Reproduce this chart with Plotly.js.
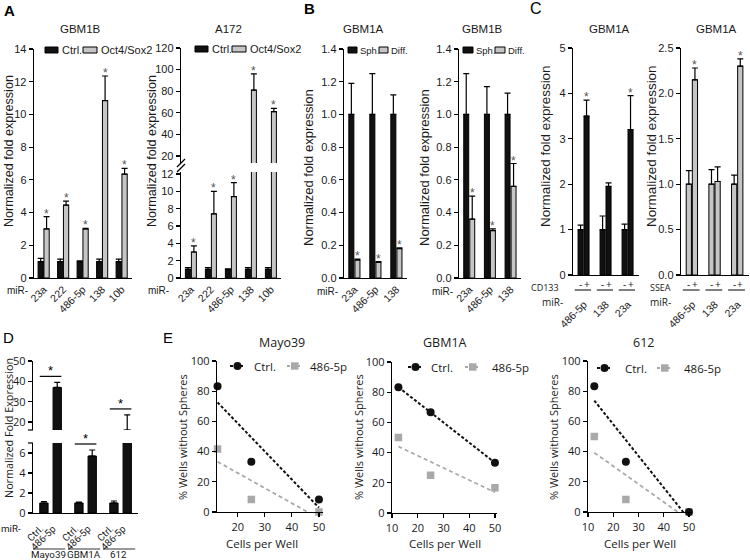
<!DOCTYPE html>
<html><head><meta charset="utf-8">
<script src="https://cdn.plot.ly/plotly-3.0.1.min.js"></script>
<style>html,body{margin:0;padding:0;background:#fff}#chart{width:750px;height:560px}</style>
</head><body><div id="chart"></div>
<script>
// ================= DATA =================
// Panel A
const aCats = ['23a','222','486-5p','138','10b'];
const gbm1bCtrl    = [1,1,1,1,1];
const gbm1bCtrlErr = [0.2,0.15,0.05,0.15,0.15];
const gbm1bOS      = [3.0,4.45,3.0,10.85,6.35];
const gbm1bOSErr   = [0.75,0.25,0.03,1.5,0.35];
const gbm1bSig     = [1,1,1,1,1];
const a172Ctrl     = [1,1,1,1,1];
const a172CtrlErr  = [0.2,0.2,0.05,0.2,0.2];
const a172OS       = [3.0,7.4,9.4,81,61];
const a172OSErr    = [0.7,2.6,1.6,15,3];
const a172Sig      = [1,1,1,1,1];
// Panel B
const bCats = ['23a','486-5p','138'];
const gbm1aSph     = [1,1,1];
const gbm1aSphErr  = [0.19,0.25,0.12];
const gbm1aDiff    = [0.11,0.095,0.18];
const gbm1aDiffErr = [0.005,0.005,0.005];
const gbm1aSig     = [1,1,1];
const gbm1bSph     = [1,1,1];
const gbm1bSphErr  = [0.25,0.17,0.13];
const gbm1bDiff    = [0.36,0.29,0.56];
const gbm1bDiffErr = [0.14,0.01,0.14];
const gbm1bBSig    = [1,1,1];
// Panel C
const cCats = ['486-5p','138','23a'];
const cd133Neg    = [1,1,1];
const cd133NegErr = [0.1,0.3,0.12];
const cd133Pos    = [3.5,1.95,3.2];
const cd133PosErr = [0.35,0.08,0.75];
const cd133Sig    = [1,0,1];
const sseaNeg     = [1,1,1];
const sseaNegErr  = [0.15,0.16,0.1];
const sseaPos     = [2.15,1.03,2.3];
const sseaPosErr  = [0.13,0.16,0.08];
const sseaSig     = [1,0,1];
// Panel D
const dLines   = ['Mayo39','GBM1A','612'];
const dCtrl    = [1,1,1];
const dCtrlErr = [0.15,0.1,0.2];
const d486     = [37,5.7,16];
const d486Err  = [2.5,0.6,7.5];
// Panel E
const cellsPerWell = [12.5,25,50];
const mayoCtrl = [83.3,33.3,8.3];
const mayo486  = [41.7,8.3,0];
const gbmCtrl  = [83.3,66.7,33.3];
const gbm486   = [50,25,16.7];
const c612Ctrl = [83.3,33.3,0];
const c612_486 = [50,8.3,0];
const fitX = [12.5,50];
const mayoCtrlFit = [72.6,2.9];
const mayo486Fit  = [33.3,-4.2];
const gbmCtrlFit  = [83.3,33.3];
const gbm486Fit   = [44.0,13.7];
const c612CtrlFit = [73.8,-4.8];
const c612_486Fit = [39.3,-5.3];

// ================= HELPERS =================
const W=750,H=560;
const px = p => p/W;
const py = p => 1 - p/H;
const ARIAL = 'Liberation Sans, Arial, sans-serif';
const MYR = 'Open Sans, Noto Sans, sans-serif';
const NARROW = 'Roboto, Open Sans, sans-serif';
const BLACK = '#111111', GREY = '#c6c6c6', EGREY = '#a9a9a9';
const TXT = '#1a1a1a';

function yAxis(anchor, top, bottom, range, o={}) {
  return Object.assign({anchor, domain:[py(bottom), py(top)], range, showline:true, linecolor:'#000', linewidth:1.3,
    ticks:'outside', ticklen:4, tickwidth:1.2, tickcolor:'#000', showgrid:false, zeroline:false, automargin:false,
    fixedrange:true, tickfont:{family:ARIAL,size:11,color:TXT}}, o);
}
function catX(anchor, l, r, n, o={}) {
  return Object.assign({anchor, domain:[px(l), px(r)], type:'category', range:[-0.5, n-0.5], showline:true,
    linecolor:'#000', linewidth:1.3, ticks:'', tickangle:-45, showgrid:false, zeroline:false, automargin:false,
    fixedrange:true, tickfont:{family:ARIAL,size:10.5,color:TXT}}, o);
}
function linX(anchor, l, r, range, o={}) {
  return Object.assign({anchor, domain:[px(l), px(r)], range, showline:true, linecolor:'#000', linewidth:1.3,
    ticks:'outside', ticklen:4, tickwidth:1.2, tickcolor:'#000', showgrid:false, zeroline:false, automargin:false,
    fixedrange:true, tickvals:[10,20,30,40,50], tickfont:{family:MYR,size:11,color:TXT}}, o);
}
function barTrace(xa, ya, cats, vals, errs, color, off, w) {
  return {type:'bar', x:cats, y:vals, xaxis:xa, yaxis:ya, offset:off, width:w,
    marker:{color, line:{color:'#000', width:1}},
    error_y:{type:'data', symmetric:false, array:errs, arrayminus:vals.map(()=>0), color:'#000', thickness:1.2, width:3},
    showlegend:false, hoverinfo:'skip'};
}
function txt(text, x, y, o={}) {
  return Object.assign({text, x:px(x), y:py(y), xref:'paper', yref:'paper', showarrow:false,
    font:{family:ARIAL,size:11,color:TXT}, xanchor:'center', yanchor:'middle'}, o);
}
function starAnns(xa, ya, vals, errs, sig, off, w, yaAlt, altThresh) {
  const out = [];
  vals.forEach((v,i) => {
    if (!sig[i]) return;
    const top = v + errs[i];
    let yr = ya, xr = xa;
    if (yaAlt && top > altThresh) { yr = yaAlt[1]; xr = yaAlt[0]; }
    out.push({text:'*', x:i+off+w/2, y:top, xref:xr, yref:yr, showarrow:false, xanchor:'center', yanchor:'bottom',
      yshift:-6, font:{family:ARIAL,size:12,color:'#555'}});
  });
  return out;
}
function rect(x0,y0,x1,y1,fill) {
  return {type:'rect', xref:'paper', yref:'paper', x0:px(x0), x1:px(x1), y0:py(y1), y1:py(y0),
    fillcolor:fill, line:{color:'#000', width:1}};
}
function pline(x0,y0,x1,y1,color='#000',width=1.2,dash='solid') {
  return {type:'line', xref:'paper', yref:'paper', x0:px(x0), x1:px(x1), y0:py(y0), y1:py(y1), line:{color,width,dash}};
}

// ================= TRACES =================
const traces = [];
// A
const aOff=[-0.29,0.01], aW=0.27;
traces.push(barTrace('x','y',aCats,gbm1bCtrl,gbm1bCtrlErr,BLACK,aOff[0],aW));
traces.push(barTrace('x','y',aCats,gbm1bOS,gbm1bOSErr,GREY,aOff[1],aW));
const a2Off=[-0.28,0.02], a2W=0.25;
['2','3'].forEach(k=>{
  traces.push(barTrace('x'+k,'y'+k,aCats,a172Ctrl,a172CtrlErr,BLACK,a2Off[0],a2W));
  traces.push(barTrace('x'+k,'y'+k,aCats,a172OS,a172OSErr,GREY,a2Off[1],a2W));
});
// B
const bOff=[-0.27,0.02], bW=0.24;
traces.push(barTrace('x4','y4',bCats,gbm1aSph,gbm1aSphErr,BLACK,bOff[0],bW));
traces.push(barTrace('x4','y4',bCats,gbm1aDiff,gbm1aDiffErr,GREY,bOff[1],bW));
traces.push(barTrace('x5','y5',bCats,gbm1bSph,gbm1bSphErr,BLACK,bOff[0],bW));
traces.push(barTrace('x5','y5',bCats,gbm1bDiff,gbm1bDiffErr,GREY,bOff[1],bW));
// C
const cOff=[-0.27,0.0], cW=0.23;
traces.push(barTrace('x6','y6',cCats,cd133Neg,cd133NegErr,BLACK,cOff[0],cW));
traces.push(barTrace('x6','y6',cCats,cd133Pos,cd133PosErr,BLACK,cOff[1],cW));
traces.push(barTrace('x7','y7',cCats,sseaNeg,sseaNegErr,GREY,cOff[0],cW));
traces.push(barTrace('x7','y7',cCats,sseaPos,sseaPosErr,GREY,cOff[1],cW));
// D
const dOff=[-0.307,0.073], dW=0.238;
['8','9'].forEach(k=>{
  traces.push(barTrace('x'+k,'y'+k,dLines,dCtrl,dCtrlErr,BLACK,dOff[0],dW));
  traces.push(barTrace('x'+k,'y'+k,dLines,d486,d486Err,BLACK,dOff[1],dW));
});
// E
function ePanel(k, ctrl, m486, ctrlFit, fit486) {
  traces.push({type:'scatter', mode:'lines', x:fitX, y:fit486, xaxis:'x'+k, yaxis:'y'+k,
    line:{color:EGREY, width:1.8, dash:'4px,3px'}, showlegend:false, hoverinfo:'skip'});
  traces.push({type:'scatter', mode:'lines', x:fitX, y:ctrlFit, xaxis:'x'+k, yaxis:'y'+k,
    line:{color:'#111', width:2, dash:'3px,2px'}, showlegend:false, hoverinfo:'skip'});
  traces.push({type:'scatter', mode:'markers', x:cellsPerWell, y:m486, xaxis:'x'+k, yaxis:'y'+k, cliponaxis:false,
    marker:{symbol:'square', size:7.5, color:EGREY}, showlegend:false, hoverinfo:'skip'});
  traces.push({type:'scatter', mode:'markers', x:cellsPerWell, y:ctrl, xaxis:'x'+k, yaxis:'y'+k, cliponaxis:false,
    marker:{symbol:'circle', size:8, color:'#111'}, showlegend:false, hoverinfo:'skip'});
}
ePanel('10', mayoCtrl, mayo486, mayoCtrlFit, mayo486Fit);
ePanel('11', gbmCtrl, gbm486, gbmCtrlFit, gbm486Fit);
ePanel('12', c612Ctrl, c612_486, c612CtrlFit, c612_486Fit);

// ================= LAYOUT =================
const layout = {
  width:W, height:H, margin:{l:0,r:0,t:0,b:0}, paper_bgcolor:'#fff', plot_bgcolor:'rgba(0,0,0,0)',
  showlegend:false, barmode:'overlay', font:{family:ARIAL, color:TXT},
  // A
  xaxis: catX('y',34,131.5,5),
  yaxis: yAxis('x',49,278,[0,14],{dtick:2}),
  xaxis2: catX('y2',181,281,5),
  yaxis2: yAxis('x2',172,278,[0,12.23],{dtick:2}),
  xaxis3: catX('y3',181,281,5,{visible:false}),
  yaxis3: yAxis('x3',48,163,[13.5,120],{tickvals:[20,40,60,80,100,120]}),
  // B
  xaxis4: catX('y4',344,407,3),
  yaxis4: yAxis('x4',49,278,[0,1.4],{dtick:0.2,tickformat:'.1f'}),
  xaxis5: catX('y5',459,521,3),
  yaxis5: yAxis('x5',49,278,[0,1.4],{dtick:0.2,tickformat:'.1f'}),
  // C
  xaxis6: catX('y6',573,639,3,{ticklabelstandoff:18}),
  yaxis6: yAxis('x6',48,275,[0,5],{dtick:1}),
  xaxis7: catX('y7',681,749,3,{ticklabelstandoff:18}),
  yaxis7: yAxis('x7',48,275,[0,2.5],{dtick:0.5,tickformat:'.1f'}),
  // D
  xaxis8: catX('y8',33,138,3,{showticklabels:false}),
  yaxis8: yAxis('x8',443,513,[0,7],{dtick:2,tickfont:{family:MYR,size:11,color:TXT}}),
  xaxis9: catX('y9',33,138,3,{visible:false}),
  yaxis9: yAxis('x9',361,430,[16.1,50],{tickvals:[20,30,40,50],tickfont:{family:MYR,size:11,color:TXT}}),
  // E
  xaxis10: linX('y10',217,323,[12.3,51.5]),
  yaxis10: yAxis('x10',361,512,[0,100],{dtick:20,tickfont:{family:MYR,size:11,color:TXT}}),
  xaxis11: linX('y11',392,497,[10,50.8]),
  yaxis11: yAxis('x11',362,513,[0,100],{dtick:20,tickfont:{family:MYR,size:11,color:TXT}}),
  xaxis12: linX('y12',588,692,[10,51.2]),
  yaxis12: yAxis('x12',361,512,[0,100],{dtick:20,tickfont:{family:MYR,size:11,color:TXT}}),
};

const ann = [];
const shapes = [];
// panel letters
ann.push(txt('<b>A</b>',9,10,{font:{family:ARIAL,size:15,color:'#000'}}));
ann.push(txt('<b>B</b>',309,9,{font:{family:ARIAL,size:15,color:'#000'}}));
ann.push(txt('C',536,9,{font:{family:ARIAL,size:16,color:'#000'}}));
ann.push(txt('D',8,337,{font:{family:ARIAL,size:15,color:'#000'}}));
ann.push(txt('E',168,337,{font:{family:ARIAL,size:15,color:'#000'}}));
// titles
const tf = {family:ARIAL,size:11.5,color:TXT};
[['GBM1B',80],['A172',228],['GBM1A',363],['GBM1B',482],['GBM1A',609],['GBM1A',716]].forEach(([t,x])=>ann.push(txt(t,x,29,{font:tf})));
const ef = {family:MYR,size:12.5,color:TXT};
[['Mayo39',282],['GBM1A',445],['612',643]].forEach(([t,x])=>ann.push(txt(t,x,342,{font:ef})));
// y titles
[[9,151,12.6],[152,151,12.6],[308,168,13],[424,168,13],[546,146,13.4],[652,146,13.4]].forEach(([x,y,s])=>
  ann.push(txt('Normalized fold expression',x,y,{textangle:-90,font:{family:ARIAL,size:s,color:TXT}})));
ann.push(txt('Normalized Fold Expression',8,428,{textangle:-90,font:{family:MYR,size:10.8,color:TXT}}));
[[182,437],[358,437],[553,437]].forEach(([x,y])=>ann.push(txt('% Wells without Spheres',x,y,{textangle:-90,font:{family:MYR,size:11,color:TXT}})));
[[262,543],[445,543],[640,543]].forEach(([x,y])=>ann.push(txt('Cells per Well',x,y,{font:{family:MYR,size:11.5,color:TXT}})));
// miR- labels
const mf = {family:ARIAL,size:10,color:TXT};
[[30,290],[171,290],[340,291],[455,291]].forEach(([x,y])=>ann.push(txt('miR-',x,y,{xanchor:'right',font:mf})));
const cf = {family:MYR,size:10,color:TXT};
const cf2 = {family:MYR,size:9,color:TXT};
[[565,302],[673,302]].forEach(([x,y])=>ann.push(txt('miR-',x,y,{xanchor:'right',font:cf})));
ann.push(txt('CD133',561,287.5,{xanchor:'right',font:cf2}));
ann.push(txt('SSEA',673,287.5,{xanchor:'right',font:cf2}));
const df = {family:NARROW,size:9.8,color:TXT};
ann.push(txt('miR-',23,528,{xanchor:'right',font:df}));
// C: - / + labels and underlines
[['x6'],['x7']].forEach(([xr])=>{
  cCats.forEach((c,i)=>{
    ann.push({text:'-', x:i+cOff[0]+cW/2, y:py(284), xref:xr, yref:'paper', showarrow:false, font:cf, xanchor:'center', yanchor:'middle'});
    ann.push({text:'+', x:i+cOff[1]+cW/2, y:py(284), xref:xr, yref:'paper', showarrow:false, font:cf, xanchor:'center', yanchor:'middle'});
    shapes.push({type:'line', xref:xr, yref:'paper', x0:i-0.42, x1:i+0.32, y0:py(290), y1:py(290), line:{color:'#000',width:1}});
  });
});
// D: bar labels, underlines, group names
dLines.forEach((g,i)=>{
  ann.push({text:'Ctrl.', x:i+dOff[0]+dW/2, y:py(520), xref:'x8', yref:'paper', showarrow:false, textangle:-45,
    xanchor:'right', yanchor:'top', xshift:4, font:df});
  ann.push({text:'486-5p', x:i+dOff[1]+dW/2, y:py(520), xref:'x8', yref:'paper', showarrow:false, textangle:-45,
    xanchor:'right', yanchor:'top', xshift:4, font:df});
  shapes.push({type:'line', xref:'x8', yref:'paper', x0:i-0.5, x1:i+0.42, y0:py(549), y1:py(549), line:{color:'#777',width:1.5}});
  ann.push({text:g, x:i-0.05, y:py(554), xref:'x8', yref:'paper', showarrow:false, xanchor:'center', yanchor:'middle', font:df});
  // significance bracket
  const top = d486[i] + d486Err[i];
  const k = top > 7 ? '9' : '8';
  shapes.push({type:'line', xref:'x'+k, yref:'y'+k, ysizemode:'pixel', yanchor:top, x0:i+dOff[0], x1:i+dOff[1]+dW, y0:6, y1:6, line:{color:'#000',width:1.2}});
  ann.push({text:'*', x:i, y:top, xref:'x'+k, yref:'y'+k, showarrow:false, xanchor:'center', yanchor:'bottom', yshift:2, font:{family:ARIAL,size:13,color:'#000'}});
});
// stars A-C
ann.push(...starAnns('x','y',gbm1bOS,gbm1bOSErr,gbm1bSig,aOff[1],aW));
ann.push(...starAnns('x2','y2',a172OS,a172OSErr,a172Sig,a2Off[1],a2W,['x3','y3'],12));
ann.push(...starAnns('x4','y4',gbm1aDiff,gbm1aDiffErr,gbm1aSig,bOff[1],bW));
ann.push(...starAnns('x5','y5',gbm1bDiff,gbm1bDiffErr,gbm1bBSig,bOff[1],bW));
ann.push(...starAnns('x6','y6',cd133Pos,cd133PosErr,cd133Sig,cOff[1],cW));
ann.push(...starAnns('x7','y7',sseaPos,sseaPosErr,sseaSig,cOff[1],cW));
// legends A/B
const lf = {family:ARIAL,size:11,color:TXT};
shapes.push(rect(45,47,58,53,BLACK)); ann.push(txt('Ctrl.',59.5,50,{xanchor:'left',font:lf}));
shapes.push(rect(83,47,97,53,GREY)); ann.push(txt('Oct4/Sox2',98.5,50,{xanchor:'left',font:lf}));
shapes.push(rect(195,46,208,52,BLACK)); ann.push(txt('Ctrl.',209.5,49,{xanchor:'left',font:lf}));
shapes.push(rect(232,46,246,52,GREY)); ann.push(txt('Oct4/Sox2',247.5,49,{xanchor:'left',font:lf}));
const lf2 = {family:ARIAL,size:9.5,color:TXT};
shapes.push(rect(348,47,357,53,BLACK)); ann.push(txt('Sph.',357.5,50,{xanchor:'left',font:lf2}));
shapes.push(rect(379,47,388,53,GREY)); ann.push(txt('Diff.',388.5,50,{xanchor:'left',font:lf2}));
shapes.push(rect(463,47,473,53,BLACK)); ann.push(txt('Sph.',473.5,50,{xanchor:'left',font:lf2}));
shapes.push(rect(495,47,505,53,GREY)); ann.push(txt('Diff.',505.5,50,{xanchor:'left',font:lf2}));
// legends E
const elf = {family:MYR,size:11.5,color:TXT};
[[230,366,252,287,308],[408,367,429,465,490],[597,368,623,657,682]].forEach(([x1,y,t1,x2,t2])=>{
  shapes.push(pline(x1,y,x1+15,y,'#111',2,'3px,2px'));
  shapes.push({type:'circle', xref:'paper', yref:'paper', x0:px(x1+3.5), x1:px(x1+11.5), y0:py(y+4), y1:py(y-4), fillcolor:'#111', line:{width:0}});
  ann.push(txt('Ctrl.',t1,y,{xanchor:'left',font:elf}));
  shapes.push(pline(x2,y,x2+15,y,EGREY,1.8,'3px,2px'));
  shapes.push(rect(x2+4,y-3.7,x2+11.5,y+3.7,EGREY)); shapes[shapes.length-1].line={width:0};
  ann.push(txt('486-5p',t2,y,{xanchor:'left',font:elf}));
});
// axis breaks
shapes.push(pline(177,167,185,159,'#000',1.2));
shapes.push(pline(177,172,185,164,'#000',1.2));
shapes.push(pline(28,430,33,430,'#000',1.2));
shapes.push(pline(28,443,33,443,'#000',1.2));

layout.annotations = ann;
layout.shapes = shapes;
Plotly.newPlot('chart', traces, layout, {displayModeBar:false, staticPlot:true});
</script>
</body></html>
